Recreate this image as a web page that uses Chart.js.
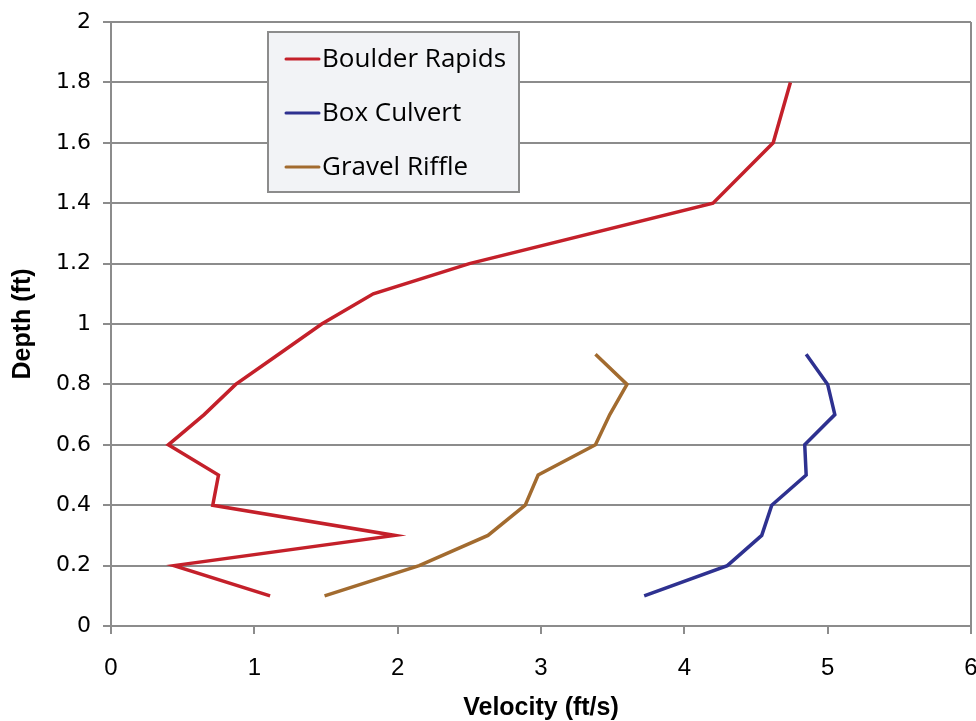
<!DOCTYPE html>
<html>
<head>
<meta charset="utf-8">
<script src="https://cdn.jsdelivr.net/npm/chart.js@4.4.1/dist/chart.umd.min.js"></script>
<style>
  html, body { margin: 0; padding: 0; background: #ffffff; }
  #wrap { width: 976px; height: 721px; position: relative; }
</style>
</head>
<body>
<div id="wrap"><canvas id="chart"></canvas></div>
<script>
// Datos (profundidad en ft, velocidad en ft/s)
const seriesNames = ["Boulder Rapids", "Box Culvert", "Gravel Riffle"];
const seriesColors = ["#C4202A", "#2E3190", "#A26B2F"];

const boulderDepth = [0.1, 0.2, 0.3, 0.4, 0.5, 0.6, 0.7, 0.8, 0.9, 1.0, 1.1, 1.2, 1.4, 1.6, 1.8];
const boulderVelocity = [1.11, 0.44, 1.98, 0.71, 0.75, 0.40, 0.65, 0.87, 1.17, 1.47, 1.83, 2.50, 4.20, 4.62, 4.74];

const culvertDepth = [0.1, 0.2, 0.3, 0.4, 0.5, 0.6, 0.7, 0.8, 0.9];
const culvertVelocity = [3.72, 4.30, 4.54, 4.61, 4.85, 4.84, 5.05, 5.00, 4.85];

const riffleDepth = [0.1, 0.2, 0.3, 0.4, 0.5, 0.6, 0.7, 0.8, 0.9];
const riffleVelocity = [1.49, 2.15, 2.63, 2.89, 2.98, 3.38, 3.48, 3.60, 3.38];

const xTicks = [0, 1, 2, 3, 4, 5, 6];
const yTicks = [0, 0.2, 0.4, 0.6, 0.8, 1, 1.2, 1.4, 1.6, 1.8, 2];

function toPoints(xs, ys) {
  return xs.map((x, i) => ({ x: x, y: ys[i] }));
}

const gridGray = "#8C8C8C";

// Leyenda con caja dentro del área del gráfico
const boxLegend = {
  id: "boxLegend",
  afterDraw(chart) {
    const ctx = chart.ctx;
    const left = 268, top = 32, w = 251, h = 160;
    ctx.save();
    ctx.fillStyle = "#F2F3F6";
    ctx.fillRect(left, top, w, h);
    ctx.strokeStyle = "#8C8C8C";
    ctx.lineWidth = 2;
    ctx.strokeRect(left, top, w, h);
    ctx.font = "26px 'Open Sans', sans-serif";
    ctx.textBaseline = "middle";
    chart.data.datasets.forEach((ds, i) => {
      const y = top + 27 + i * 54;
      ctx.strokeStyle = ds.borderColor;
      ctx.lineWidth = 3;
      ctx.lineCap = "round";
      ctx.beginPath();
      ctx.moveTo(left + 18, y);
      ctx.lineTo(left + 51, y);
      ctx.stroke();
      ctx.fillStyle = "#000";
      ctx.fillText(ds.label, left + 54, y + 1);
    });
    ctx.restore();
  },
};

new Chart(document.getElementById("chart"), {
  type: "scatter",
  data: {
    datasets: [
      { label: seriesNames[0], data: toPoints(boulderVelocity, boulderDepth) },
      { label: seriesNames[1], data: toPoints(culvertVelocity, culvertDepth) },
      { label: seriesNames[2], data: toPoints(riffleVelocity, riffleDepth) },
    ].map((ds, i) => ({
      ...ds,
      showLine: true,
      borderColor: seriesColors[i],
      backgroundColor: seriesColors[i],
      borderWidth: 3.5,
      pointRadius: 0,
      tension: 0,
    })),
  },
  options: {
    responsive: true,
    maintainAspectRatio: false,
    animation: false,
    layout: { padding: { top: 0, right: 0, left: 8, bottom: 0 } },
    plugins: {
      legend: { display: false },
      tooltip: { enabled: false },
    },
    scales: {
      x: {
        type: "linear",
        min: 0,
        max: 6,
        afterBuildTicks: (axis) => {
          axis.ticks = xTicks.map((v) => ({ value: v }));
        },
        afterFit: (axis) => {
          axis.paddingRight = 5;
          axis.height = 95;
        },
        grid: {
          color: (c) => (c.tick && c.tick.value === 6 ? gridGray : "transparent"),
          tickColor: gridGray,
          lineWidth: 2,
          tickLength: 8,
        },
        border: { color: gridGray, width: 2 },
        ticks: {
          color: "#000",
          font: { family: "'Liberation Sans Narrow', sans-serif", size: 24 },
          padding: 20,
        },
        title: {
          display: true,
          text: "Velocity (ft/s)",
          color: "#000",
          font: { family: "'Liberation Sans Narrow', sans-serif", size: 25, weight: "bold" },
          padding: { top: 0, bottom: -2 },
        },
      },
      y: {
        type: "linear",
        min: 0,
        max: 2,
        afterBuildTicks: (axis) => {
          axis.ticks = yTicks.map((v) => ({ value: v }));
        },
        afterFit: (axis) => {
          axis.paddingTop = 22;
        },
        grid: {
          color: gridGray,
          tickColor: gridGray,
          lineWidth: 2,
          tickLength: 8,
        },
        border: { color: gridGray, width: 2 },
        ticks: {
          color: "#000",
          font: { family: "'DejaVu Sans', sans-serif", size: 22 },
          padding: 12,
          callback: (v) => String(Math.round(v * 10) / 10),
        },
        title: {
          display: true,
          text: "Depth (ft)",
          color: "#000",
          font: { family: "'Liberation Sans Narrow', sans-serif", size: 25, weight: "bold" },
          padding: { top: 0, bottom: 6 },
        },
      },
    },
  },
  plugins: [boxLegend],
});
</script>
</body>
</html>
